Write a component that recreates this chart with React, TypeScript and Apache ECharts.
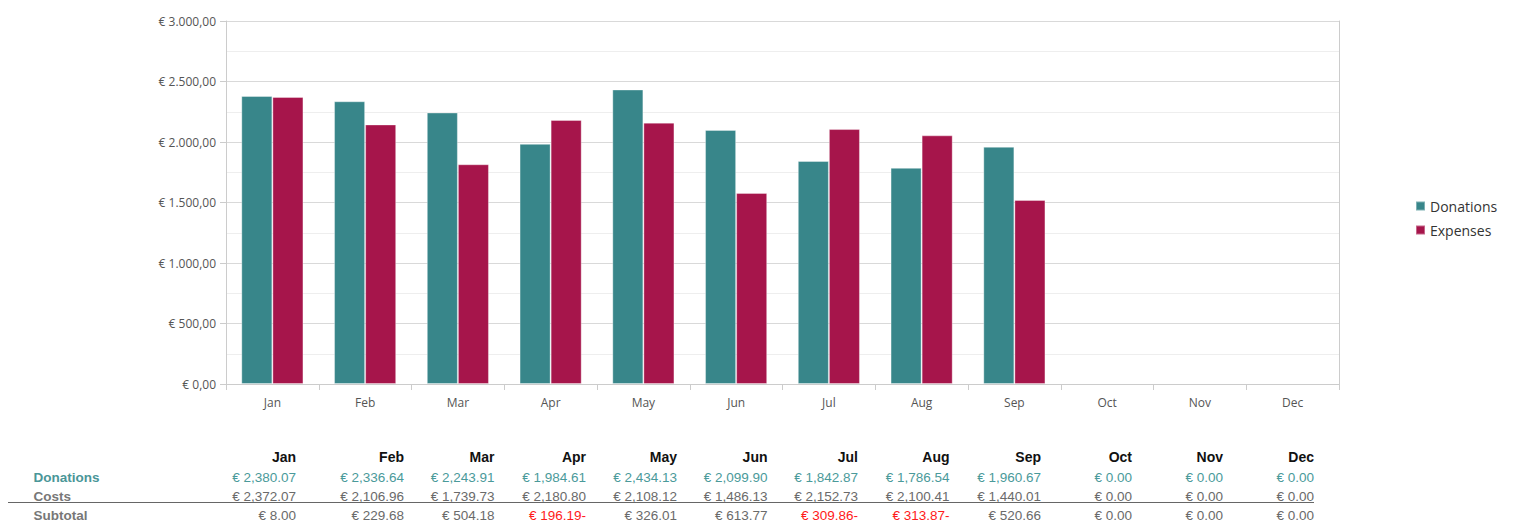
import React, { useEffect, useRef } from "react";
import * as echarts from "echarts";

const months = ["Jan", "Feb", "Mar", "Apr", "May", "Jun", "Jul", "Aug", "Sep", "Oct", "Nov", "Dec"];
const donations = [2380.07, 2336.64, 2243.91, 1984.61, 2434.13, 2099.9, 1842.87, 1786.54, 1960.67, 0, 0, 0];
const expenses = [2372.07, 2145, 1816, 2182, 2160, 1579, 2107, 2055, 1521, 0, 0, 0];
const costs = [2372.07, 2106.96, 1739.73, 2180.8, 2108.12, 1486.13, 2152.73, 2100.41, 1440.01, 0, 0, 0];
const subtotals = [8.0, 229.68, 504.18, -196.19, 326.01, 613.77, -309.86, -313.87, 520.66, 0, 0, 0];
const yTicks = [0, 500, 1000, 1500, 2000, 2500, 3000];

const TEAL = "#38868a";
const RED = "#a6154b";

function fmtDE(v: number): string {
  const s = Math.round(v).toString();
  const withSep = s.replace(/\B(?=(\d{3})+(?!\d))/g, ".");
  return "€ " + withSep + ",00";
}

function fmtEN(v: number): string {
  const abs = Math.abs(v);
  const [i, d] = abs.toFixed(2).split(".");
  const withSep = i.replace(/\B(?=(\d{3})+(?!\d))/g, ",");
  return "€ " + withSep + "." + d + (v < 0 ? "-" : "");
}

const colRight = [288, 396, 486.5, 578, 669, 759.5, 850, 941.5, 1033, 1124, 1215, 1306];
const rowY = [449, 469.9, 488.7, 507.2];
const FONT_T = "'Liberation Sans', Arial, sans-serif";

function buildTable(): any[] {
  const els: any[] = [];
  const txt = (text: string, x: number, y: number, fill: string, bold: boolean, align: string, size = 13.5) => ({
    type: "text",
    silent: true,
    style: {
      text,
      x,
      y,
      fill,
      align,
      verticalAlign: "middle",
      font: (bold ? "bold " : "") + size + "px " + FONT_T,
    },
  });
  months.forEach((m, i) => els.push(txt(m, colRight[i], rowY[0], "#111111", true, "right", 14)));
  els.push(txt("Donations", 25.5, rowY[1], "#4a9698", true, "left"));
  els.push(txt("Costs", 25.5, rowY[2], "#777777", true, "left"));
  els.push(txt("Subtotal", 25.5, rowY[3], "#777777", true, "left"));
  donations.forEach((v, i) => els.push(txt(fmtEN(v), colRight[i], rowY[1], "#4a9a9a", false, "right")));
  costs.forEach((v, i) => els.push(txt(fmtEN(v), colRight[i], rowY[2], "#6a6a6a", false, "right")));
  subtotals.forEach((v, i) =>
    els.push(txt(fmtEN(v), colRight[i], rowY[3], v < 0 ? "#ff1a1a" : "#6a6a6a", false, "right"))
  );
  els.push({
    type: "line",
    silent: true,
    shape: { x1: 0, y1: 494.5, x2: 1306, y2: 494.5 },
    style: { stroke: "#666666", lineWidth: 1 },
  });
  return els;
}

export default function App() {
  const ref = useRef<HTMLDivElement>(null);
  useEffect(() => {
    if (!ref.current) return;
    const chart = echarts.init(ref.current, undefined, { renderer: "svg" });
    const axisFont = { fontFamily: "'Open Sans', sans-serif", fontSize: 12, color: "#555555" };
    const barItem = (c: string) => ({
      color: c,
      borderColor: "rgba(255,255,255,0.35)",
      borderWidth: 1,
    });
    chart.setOption({
      animation: false,
      grid: { left: 218, top: 13, width: 1113, height: 363, containLabel: false },
      legend: {
        orient: "vertical",
        left: 1402,
        top: 186,
        itemWidth: 9,
        itemHeight: 9,
        itemGap: 10,
        icon: "rect",
        data: ["Donations", "Expenses"],
        textStyle: { fontFamily: "'Open Sans', sans-serif", fontSize: 14, color: "#333333", lineHeight: 14 },
      },
      xAxis: {
        type: "category",
        data: months,
        axisLine: { lineStyle: { color: "#cccccc" } },
        axisTick: { show: true, alignWithLabel: false, length: 6, lineStyle: { color: "#cccccc" } },
        axisLabel: { ...axisFont, margin: 12 },
      },
      yAxis: [
        {
          type: "value",
          min: 0,
          max: 3000,
          interval: 500,
          axisLine: { show: true, lineStyle: { color: "#cccccc" } },
          axisTick: { show: true, length: 6, lineStyle: { color: "#cccccc" } },
          axisLabel: {
            ...axisFont,
            margin: 10,
            formatter: (v: number) => (yTicks.includes(v) ? fmtDE(v) : ""),
          },
          splitLine: { show: true, lineStyle: { color: "#d9d9d9" } },
          minorTick: { show: false, splitNumber: 2 },
          minorSplitLine: { show: true, lineStyle: { color: "#eeeeee" } },
        },
        {
          type: "value",
          position: "right",
          min: 0,
          max: 3000,
          interval: 500,
          axisLine: { show: true, lineStyle: { color: "#cccccc" } },
          axisTick: { show: false },
          axisLabel: { show: false },
          splitLine: { show: false },
        },
      ],
      series: [
        {
          name: "Donations",
          type: "bar",
          data: donations.map((v) => (v === 0 ? { value: v, itemStyle: { borderWidth: 0 } } : v)),
          barGap: "0%",
          barCategoryGap: "33%",
          itemStyle: barItem(TEAL),
        },
        {
          name: "Expenses",
          type: "bar",
          data: expenses.map((v) => (v === 0 ? { value: v, itemStyle: { borderWidth: 0 } } : v)),
          barGap: "0%",
          barCategoryGap: "33%",
          itemStyle: barItem(RED),
        },
      ],
      graphic: buildTable(),
    });
    return () => chart.dispose();
  }, []);
  return <div ref={ref} style={{ width: 1502, height: 514 }} />;
}
